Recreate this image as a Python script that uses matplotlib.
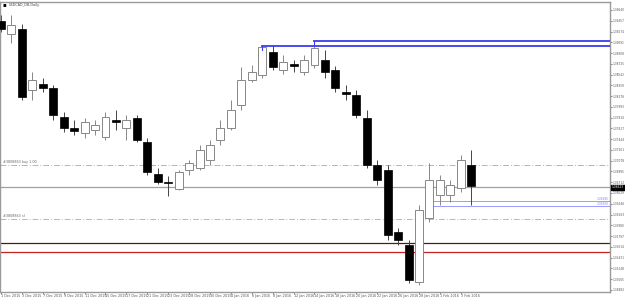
import matplotlib
matplotlib.use('Agg')
import matplotlib.pyplot as plt
from matplotlib.patches import Rectangle

dates = ["1 Dec 2015", "2 Dec 2015", "3 Dec 2015", "4 Dec 2015", "7 Dec 2015", "8 Dec 2015",
         "9 Dec 2015", "10 Dec 2015", "11 Dec 2015", "14 Dec 2015", "15 Dec 2015", "16 Dec 2015",
         "17 Dec 2015", "18 Dec 2015", "21 Dec 2015", "22 Dec 2015", "23 Dec 2015", "24 Dec 2015",
         "28 Dec 2015", "29 Dec 2015", "30 Dec 2015", "31 Dec 2015",
         "4 Jan 2016", "5 Jan 2016", "6 Jan 2016", "7 Jan 2016", "8 Jan 2016", "11 Jan 2016",
         "12 Jan 2016", "13 Jan 2016", "14 Jan 2016", "15 Jan 2016", "18 Jan 2016", "19 Jan 2016",
         "20 Jan 2016", "21 Jan 2016", "22 Jan 2016", "25 Jan 2016", "26 Jan 2016", "27 Jan 2016",
         "28 Jan 2016", "29 Jan 2016", "1 Feb 2016", "2 Feb 2016", "3 Feb 2016", "4 Feb 2016"]

opens = [1.39453, 1.39232, 1.39317, 1.38280, 1.38382, 1.38314, 1.37821, 1.37634, 1.37549, 1.37600,
         1.37481, 1.37770, 1.37634, 1.37804, 1.37396, 1.36852, 1.36716, 1.36597, 1.36920, 1.36954,
         1.37090, 1.37430, 1.37634, 1.38025, 1.38450, 1.38535, 1.38926, 1.38620, 1.38722, 1.38586,
         1.38705, 1.38790, 1.38620, 1.38246, 1.38195, 1.37804, 1.37005, 1.36920, 1.35866, 1.35645,
         1.35016, 1.36104, 1.36495, 1.36495, 1.36614, 1.37005]
highs = [1.39555, 1.39555, 1.39402, 1.38586, 1.38484, 1.38365, 1.37906, 1.37770, 1.37804, 1.37770,
         1.37906, 1.37940, 1.37855, 1.37855, 1.37464, 1.36954, 1.36818, 1.36920, 1.37090, 1.37345,
         1.37430, 1.37770, 1.38110, 1.38671, 1.38705, 1.39045, 1.39045, 1.38875, 1.38790, 1.38875,
         1.39096, 1.38960, 1.38688, 1.38365, 1.38280, 1.37940, 1.37090, 1.37005, 1.35934, 1.35730,
         1.36325, 1.37039, 1.36835, 1.36750, 1.37175, 1.37260]
lows = [1.39266, 1.39079, 1.38110, 1.38110, 1.38246, 1.37770, 1.37566, 1.37515, 1.37464, 1.37515,
        1.37430, 1.37600, 1.37430, 1.37396, 1.36835, 1.36682, 1.36478, 1.36580, 1.36835, 1.36920,
        1.37005, 1.37345, 1.37600, 1.37940, 1.38416, 1.38484, 1.38620, 1.38552, 1.38586, 1.38535,
        1.38654, 1.38484, 1.38246, 1.38110, 1.37804, 1.36954, 1.36665, 1.35730, 1.35645, 1.34999,
        1.34965, 1.36036, 1.36325, 1.36376, 1.36546, 1.36325]
closes = [1.39317, 1.39385, 1.38161, 1.38450, 1.38314, 1.37855, 1.37634, 1.37583, 1.37736, 1.37685,
          1.37821, 1.37736, 1.37770, 1.37430, 1.36886, 1.36716, 1.36699, 1.36886, 1.37039, 1.37260,
          1.37345, 1.37634, 1.37940, 1.38450, 1.38586, 1.39011, 1.38671, 1.38756, 1.38688, 1.38790,
          1.38994, 1.38586, 1.38314, 1.38212, 1.37855, 1.37005, 1.36750, 1.35815, 1.35730, 1.35050,
          1.36240, 1.36750, 1.36750, 1.36665, 1.37090, 1.36648]

price_ticks = [1.39640, 1.39457, 1.39274, 1.39091, 1.38908, 1.38725, 1.38542, 1.38359, 1.38176,
               1.37993, 1.37810, 1.37627, 1.37444, 1.37261, 1.37078, 1.36895, 1.36712, 1.36529,
               1.36346, 1.36163, 1.35980, 1.35797, 1.35614, 1.35431, 1.35248, 1.35065, 1.34882]

title = "USDCAD_DB,Daily"
res_upper = 1.39113   # blue level from bar 30
res_lower = 1.39028   # blue level from bar 25
res_upper_start = 30
res_lower_start = 25
buy_level = 1.37005
sl_level = 1.36082
bid_level = 1.36623
fib_levels = [1.36385, 1.36300]
fib_start = 40.8
dark_level = 1.35674
red_level = 1.35521
order_label_buy = "#3808863 buy 1.00"
order_label_sl = "#3808863 sl"

W, H = 625, 298
fig = plt.figure(figsize=(W / 100, H / 100), dpi=100)
fig.patch.set_facecolor('white')
ax = fig.add_axes([0, 6 / H, 610 / W, 290 / H])
ax.set_facecolor('white')
ax.set_xlim(-0.096, 58.28)
ax.set_ylim(1.34846, 1.39776)

for s in ax.spines.values():
    s.set_color('#9a9a9a')
    s.set_linewidth(1.0)

FS = 2.4
YFS = 2.1
ax.yaxis.tick_right()
ax.set_yticks(price_ticks)
ax.set_yticklabels([f"{v:.5f}" for v in price_ticks])
ax.tick_params(axis='y', length=1.2, width=0.5, pad=0.4, labelsize=YFS, colors='#555555')
xt = list(range(0, len(dates), 2))
ax.set_xticks(xt)
ax.set_xticklabels([dates[i] for i in xt])
for lab in ax.get_xticklabels():
    lab.set_ha('left')
ax.tick_params(axis='x', length=1.2, width=0.5, pad=0.3, labelsize=FS, colors='#555555')

# horizontal levels
ax.axhline(buy_level, color='#8fcf8f', lw=0.7, ls=(0, (6, 2, 1, 2)), zorder=1)
ax.axhline(sl_level, color='#f0a0a0', lw=0.7, ls=(0, (6, 2, 1, 2)), zorder=1)
ax.axhline(bid_level, color='#a0a0a0', lw=0.9, zorder=1)
ax.axhline(dark_level, color='#5a1515', lw=0.9, zorder=1)
ax.axhline(red_level, color='#c42020', lw=0.9, zorder=1)
for lv in fib_levels:
    ax.plot([fib_start, 58.28], [lv, lv], color='#9a9aff', lw=0.7, zorder=1)
ax.plot([res_upper_start, 58.28], [res_upper, res_upper], color='#3c3cf0', lw=1.3, zorder=4)
ax.plot([res_lower_start, 58.28], [res_lower, res_lower], color='#3c3cf0', lw=1.3, zorder=4)
ax.plot([res_lower_start, res_lower_start], [res_lower, res_lower - 0.0007], color='#3c3cf0', lw=0.8, zorder=4)
ax.plot([res_upper_start, res_upper_start], [res_upper, res_lower], color='#3c3cf0', lw=0.8, zorder=4)

# candles
bw = 0.76
for i in range(len(opens)):
    o, h, l, c = opens[i], highs[i], lows[i], closes[i]
    if c < o:
        ax.vlines(i, l, h, color='#444444', lw=0.7, zorder=2)
        ax.add_patch(Rectangle((i - bw / 2, c), bw, o - c, facecolor='black',
                               edgecolor='black', lw=0.5, zorder=3))
    else:
        ax.vlines(i, l, h, color='#888888', lw=0.7, zorder=2)
        ax.add_patch(Rectangle((i - bw / 2, o), bw, max(c - o, 0.00002), facecolor='white',
                               edgecolor='#888888', lw=0.7, zorder=3))

# texts
ax.text(0.005, buy_level + 0.0002, order_label_buy, transform=ax.get_yaxis_transform(),
        fontsize=FS, color='#666666', va='bottom', ha='left')
ax.text(0.005, sl_level + 0.0002, order_label_sl, transform=ax.get_yaxis_transform(),
        fontsize=FS, color='#666666', va='bottom', ha='left')
for lv in fib_levels:
    ax.text(0.998, lv + 0.00005, f"{lv:.5f}", transform=ax.get_yaxis_transform(),
            fontsize=YFS, color='#7a7aff', va='bottom', ha='right')
ax.text(1.003, bid_level, f"{bid_level:.5f}", transform=ax.get_yaxis_transform(),
        fontsize=YFS, color='white', va='center', ha='left',
        bbox=dict(boxstyle='square,pad=0.2', fc='black', ec='black'), zorder=6)
fig.text(9 / W, 1 - 5 / H, title, fontsize=FS, color='#444444', va='center', ha='left')
fig.text(3 / W, 1 - 5 / H, "\u25aa", fontsize=4, color='black', va='center', ha='left')

fig.savefig('out.png', dpi=100, facecolor='white')
